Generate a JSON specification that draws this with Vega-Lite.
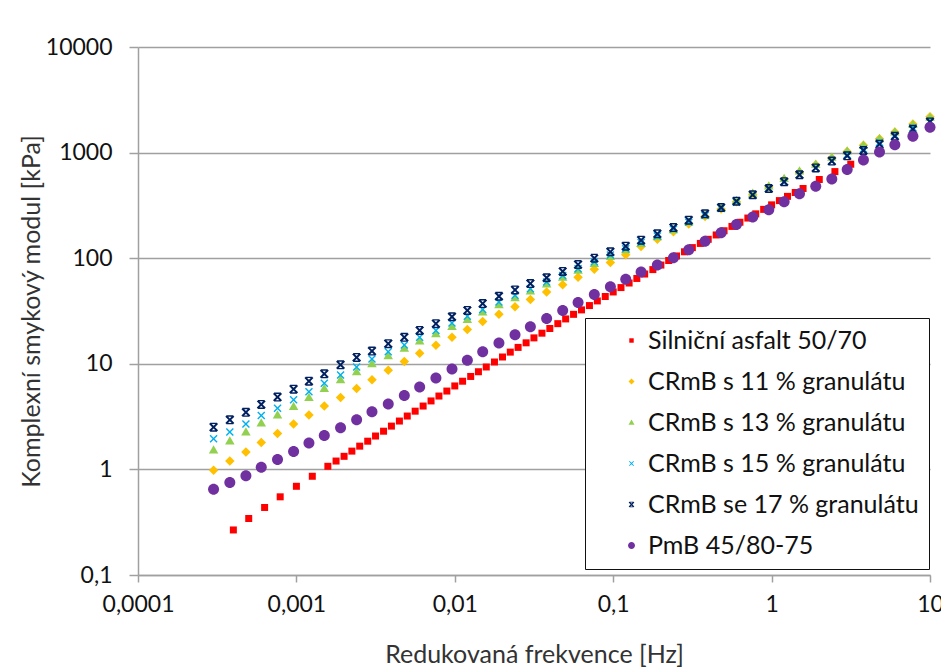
{
"$schema": "https://vega.github.io/schema/vega-lite/v6.json",
"width": 792, "height": 528,
"autosize": {"type": "none"},
"padding": {"left": 138, "top": 47, "right": 11, "bottom": 95},
"background": "white",
"config": {"view": {"stroke": null}, "font": "Lato"},
"data": {"values": [
{"s":"Silniční asfalt 50/70","f":0.0004,"g":0.267},{"s":"Silniční asfalt 50/70","f":0.0005,"g":0.343},{"s":"Silniční asfalt 50/70","f":0.00063,"g":0.436},{"s":"Silniční asfalt 50/70","f":0.00079,"g":0.55},{"s":"Silniční asfalt 50/70","f":0.001,"g":0.692},{"s":"Silniční asfalt 50/70","f":0.00126,"g":0.861},{"s":"Silniční asfalt 50/70","f":0.00158,"g":1.07},{"s":"Silniční asfalt 50/70","f":0.00178,"g":1.2},{"s":"Silniční asfalt 50/70","f":0.002,"g":1.33},{"s":"Silniční asfalt 50/70","f":0.00224,"g":1.49},{"s":"Silniční asfalt 50/70","f":0.00251,"g":1.66},{"s":"Silniční asfalt 50/70","f":0.00282,"g":1.85},{"s":"Silniční asfalt 50/70","f":0.00316,"g":2.07},{"s":"Silniční asfalt 50/70","f":0.00355,"g":2.3},{"s":"Silniční asfalt 50/70","f":0.00398,"g":2.57},{"s":"Silniční asfalt 50/70","f":0.00447,"g":2.87},{"s":"Silniční asfalt 50/70","f":0.00501,"g":3.2},{"s":"Silniční asfalt 50/70","f":0.00562,"g":3.56},{"s":"Silniční asfalt 50/70","f":0.00631,"g":3.98},{"s":"Silniční asfalt 50/70","f":0.00708,"g":4.45},{"s":"Silniční asfalt 50/70","f":0.00794,"g":4.95},{"s":"Silniční asfalt 50/70","f":0.00891,"g":5.52},{"s":"Silniční asfalt 50/70","f":0.01,"g":6.17},{"s":"Silniční asfalt 50/70","f":0.0112,"g":6.84},{"s":"Silniční asfalt 50/70","f":0.0126,"g":7.59},{"s":"Silniční asfalt 50/70","f":0.0141,"g":8.41},{"s":"Silniční asfalt 50/70","f":0.0158,"g":9.33},{"s":"Silniční asfalt 50/70","f":0.0178,"g":10.4},{"s":"Silniční asfalt 50/70","f":0.02,"g":11.6},{"s":"Silniční asfalt 50/70","f":0.0224,"g":12.9},{"s":"Silniční asfalt 50/70","f":0.0251,"g":14.3},{"s":"Silniční asfalt 50/70","f":0.0282,"g":15.8},{"s":"Silniční asfalt 50/70","f":0.0316,"g":17.6},{"s":"Silniční asfalt 50/70","f":0.0355,"g":19.5},{"s":"Silniční asfalt 50/70","f":0.0398,"g":21.6},{"s":"Silniční asfalt 50/70","f":0.0447,"g":24},{"s":"Silniční asfalt 50/70","f":0.0501,"g":26.6},{"s":"Silniční asfalt 50/70","f":0.0562,"g":29.4},{"s":"Silniční asfalt 50/70","f":0.0631,"g":32.4},{"s":"Silniční asfalt 50/70","f":0.0708,"g":35.6},{"s":"Silniční asfalt 50/70","f":0.0794,"g":39.4},{"s":"Silniční asfalt 50/70","f":0.0891,"g":43.4},{"s":"Silniční asfalt 50/70","f":0.1,"g":47.9},{"s":"Silniční asfalt 50/70","f":0.112,"g":52.7},{"s":"Silniční asfalt 50/70","f":0.126,"g":58.2},{"s":"Silniční asfalt 50/70","f":0.141,"g":64.3},{"s":"Silniční asfalt 50/70","f":0.158,"g":70.8},{"s":"Silniční asfalt 50/70","f":0.178,"g":78},{"s":"Silniční asfalt 50/70","f":0.2,"g":86.1},{"s":"Silniční asfalt 50/70","f":0.224,"g":95.1},{"s":"Silniční asfalt 50/70","f":0.251,"g":105},{"s":"Silniční asfalt 50/70","f":0.282,"g":115},{"s":"Silniční asfalt 50/70","f":0.316,"g":126},{"s":"Silniční asfalt 50/70","f":0.355,"g":138},{"s":"Silniční asfalt 50/70","f":0.398,"g":151},{"s":"Silniční asfalt 50/70","f":0.447,"g":166},{"s":"Silniční asfalt 50/70","f":0.501,"g":182},{"s":"Silniční asfalt 50/70","f":0.562,"g":200},{"s":"Silniční asfalt 50/70","f":0.631,"g":219},{"s":"Silniční asfalt 50/70","f":0.708,"g":240},{"s":"Silniční asfalt 50/70","f":0.794,"g":263},{"s":"Silniční asfalt 50/70","f":0.891,"g":290},{"s":"Silniční asfalt 50/70","f":1,"g":320},{"s":"Silniční asfalt 50/70","f":1.12,"g":351},{"s":"Silniční asfalt 50/70","f":1.26,"g":385},{"s":"Silniční asfalt 50/70","f":1.41,"g":419},{"s":"Silniční asfalt 50/70","f":1.58,"g":457},{"s":"Silniční asfalt 50/70","f":2,"g":556},{"s":"Silniční asfalt 50/70","f":2.51,"g":661},{"s":"Silniční asfalt 50/70","f":3.16,"g":776},
{"s":"CRmB s 11 % granulátu","f":0.0003,"g":0.98},{"s":"CRmB s 11 % granulátu","f":0.00038,"g":1.2},{"s":"CRmB s 11 % granulátu","f":0.00048,"g":1.46},{"s":"CRmB s 11 % granulátu","f":0.0006,"g":1.8},{"s":"CRmB s 11 % granulátu","f":0.00076,"g":2.19},{"s":"CRmB s 11 % granulátu","f":0.00096,"g":2.69},{"s":"CRmB s 11 % granulátu","f":0.0012,"g":3.27},{"s":"CRmB s 11 % granulátu","f":0.0015,"g":3.98},{"s":"CRmB s 11 % granulátu","f":0.0019,"g":4.79},{"s":"CRmB s 11 % granulátu","f":0.0024,"g":5.82},{"s":"CRmB s 11 % granulátu","f":0.003,"g":7.08},{"s":"CRmB s 11 % granulátu","f":0.0038,"g":8.71},{"s":"CRmB s 11 % granulátu","f":0.0048,"g":10.5},{"s":"CRmB s 11 % granulátu","f":0.006,"g":12.6},{"s":"CRmB s 11 % granulátu","f":0.0076,"g":15},{"s":"CRmB s 11 % granulátu","f":0.0096,"g":17.8},{"s":"CRmB s 11 % granulátu","f":0.012,"g":21.1},{"s":"CRmB s 11 % granulátu","f":0.015,"g":25.1},{"s":"CRmB s 11 % granulátu","f":0.019,"g":29.5},{"s":"CRmB s 11 % granulátu","f":0.024,"g":34.7},{"s":"CRmB s 11 % granulátu","f":0.03,"g":40.7},{"s":"CRmB s 11 % granulátu","f":0.038,"g":47.9},{"s":"CRmB s 11 % granulátu","f":0.048,"g":56.2},{"s":"CRmB s 11 % granulátu","f":0.06,"g":66.1},{"s":"CRmB s 11 % granulátu","f":0.076,"g":78.5},{"s":"CRmB s 11 % granulátu","f":0.096,"g":91.2},{"s":"CRmB s 11 % granulátu","f":0.12,"g":108},{"s":"CRmB s 11 % granulátu","f":0.15,"g":129},{"s":"CRmB s 11 % granulátu","f":0.19,"g":151},{"s":"CRmB s 11 % granulátu","f":0.24,"g":178},{"s":"CRmB s 11 % granulátu","f":0.3,"g":211},{"s":"CRmB s 11 % granulátu","f":0.38,"g":248},{"s":"CRmB s 11 % granulátu","f":0.48,"g":292},{"s":"CRmB s 11 % granulátu","f":0.6,"g":343},{"s":"CRmB s 11 % granulátu","f":0.76,"g":403},{"s":"CRmB s 11 % granulátu","f":0.96,"g":473},{"s":"CRmB s 11 % granulátu","f":1.2,"g":556},{"s":"CRmB s 11 % granulátu","f":1.5,"g":653},{"s":"CRmB s 11 % granulátu","f":1.9,"g":767},{"s":"CRmB s 11 % granulátu","f":2.4,"g":891},{"s":"CRmB s 11 % granulátu","f":3,"g":1023},{"s":"CRmB s 11 % granulátu","f":3.8,"g":1175},{"s":"CRmB s 11 % granulátu","f":4.8,"g":1349},{"s":"CRmB s 11 % granulátu","f":6,"g":1567},{"s":"CRmB s 11 % granulátu","f":7.8,"g":1862},{"s":"CRmB s 11 % granulátu","f":10,"g":2188},
{"s":"CRmB s 13 % granulátu","f":0.0003,"g":1.53},{"s":"CRmB s 13 % granulátu","f":0.00038,"g":1.86},{"s":"CRmB s 13 % granulátu","f":0.00048,"g":2.26},{"s":"CRmB s 13 % granulátu","f":0.0006,"g":2.75},{"s":"CRmB s 13 % granulátu","f":0.00076,"g":3.27},{"s":"CRmB s 13 % granulátu","f":0.00096,"g":3.94},{"s":"CRmB s 13 % granulátu","f":0.0012,"g":4.79},{"s":"CRmB s 13 % granulátu","f":0.0015,"g":5.82},{"s":"CRmB s 13 % granulátu","f":0.0019,"g":7.08},{"s":"CRmB s 13 % granulátu","f":0.0024,"g":8.41},{"s":"CRmB s 13 % granulátu","f":0.003,"g":10},{"s":"CRmB s 13 % granulátu","f":0.0038,"g":11.9},{"s":"CRmB s 13 % granulátu","f":0.0048,"g":14},{"s":"CRmB s 13 % granulátu","f":0.006,"g":16.4},{"s":"CRmB s 13 % granulátu","f":0.0076,"g":19.3},{"s":"CRmB s 13 % granulátu","f":0.0096,"g":22.6},{"s":"CRmB s 13 % granulátu","f":0.012,"g":26.3},{"s":"CRmB s 13 % granulátu","f":0.015,"g":30.9},{"s":"CRmB s 13 % granulátu","f":0.019,"g":36.3},{"s":"CRmB s 13 % granulátu","f":0.024,"g":42.2},{"s":"CRmB s 13 % granulátu","f":0.03,"g":49},{"s":"CRmB s 13 % granulátu","f":0.038,"g":56.9},{"s":"CRmB s 13 % granulátu","f":0.048,"g":66.1},{"s":"CRmB s 13 % granulátu","f":0.06,"g":76.7},{"s":"CRmB s 13 % granulátu","f":0.076,"g":89.1},{"s":"CRmB s 13 % granulátu","f":0.096,"g":104},{"s":"CRmB s 13 % granulátu","f":0.12,"g":120},{"s":"CRmB s 13 % granulátu","f":0.15,"g":138},{"s":"CRmB s 13 % granulátu","f":0.19,"g":160},{"s":"CRmB s 13 % granulátu","f":0.24,"g":186},{"s":"CRmB s 13 % granulátu","f":0.3,"g":221},{"s":"CRmB s 13 % granulátu","f":0.38,"g":257},{"s":"CRmB s 13 % granulátu","f":0.48,"g":299},{"s":"CRmB s 13 % granulátu","f":0.6,"g":351},{"s":"CRmB s 13 % granulátu","f":0.76,"g":412},{"s":"CRmB s 13 % granulátu","f":0.96,"g":484},{"s":"CRmB s 13 % granulátu","f":1.2,"g":569},{"s":"CRmB s 13 % granulátu","f":1.5,"g":668},{"s":"CRmB s 13 % granulátu","f":1.9,"g":776},{"s":"CRmB s 13 % granulátu","f":2.4,"g":902},{"s":"CRmB s 13 % granulátu","f":3,"g":1035},{"s":"CRmB s 13 % granulátu","f":3.8,"g":1175},{"s":"CRmB s 13 % granulátu","f":4.8,"g":1349},{"s":"CRmB s 13 % granulátu","f":6,"g":1567},{"s":"CRmB s 13 % granulátu","f":7.8,"g":1841},{"s":"CRmB s 13 % granulátu","f":10,"g":2163},
{"s":"CRmB s 15 % granulátu","f":0.0003,"g":1.95},{"s":"CRmB s 15 % granulátu","f":0.00038,"g":2.26},{"s":"CRmB s 15 % granulátu","f":0.00048,"g":2.69},{"s":"CRmB s 15 % granulátu","f":0.0006,"g":3.24},{"s":"CRmB s 15 % granulátu","f":0.00076,"g":3.8},{"s":"CRmB s 15 % granulátu","f":0.00096,"g":4.57},{"s":"CRmB s 15 % granulátu","f":0.0012,"g":5.43},{"s":"CRmB s 15 % granulátu","f":0.0015,"g":6.53},{"s":"CRmB s 15 % granulátu","f":0.0019,"g":7.85},{"s":"CRmB s 15 % granulátu","f":0.0024,"g":9.33},{"s":"CRmB s 15 % granulátu","f":0.003,"g":11.1},{"s":"CRmB s 15 % granulátu","f":0.0038,"g":13},{"s":"CRmB s 15 % granulátu","f":0.0048,"g":15.1},{"s":"CRmB s 15 % granulátu","f":0.006,"g":17.8},{"s":"CRmB s 15 % granulátu","f":0.0076,"g":20.7},{"s":"CRmB s 15 % granulátu","f":0.0096,"g":24.3},{"s":"CRmB s 15 % granulátu","f":0.012,"g":28.2},{"s":"CRmB s 15 % granulátu","f":0.015,"g":32.7},{"s":"CRmB s 15 % granulátu","f":0.019,"g":38.5},{"s":"CRmB s 15 % granulátu","f":0.024,"g":44.7},{"s":"CRmB s 15 % granulátu","f":0.03,"g":51.3},{"s":"CRmB s 15 % granulátu","f":0.038,"g":59.6},{"s":"CRmB s 15 % granulátu","f":0.048,"g":68.4},{"s":"CRmB s 15 % granulátu","f":0.06,"g":79.4},{"s":"CRmB s 15 % granulátu","f":0.076,"g":92.3},{"s":"CRmB s 15 % granulátu","f":0.096,"g":107},{"s":"CRmB s 15 % granulátu","f":0.12,"g":123},{"s":"CRmB s 15 % granulátu","f":0.15,"g":141},{"s":"CRmB s 15 % granulátu","f":0.19,"g":162},{"s":"CRmB s 15 % granulátu","f":0.24,"g":188},{"s":"CRmB s 15 % granulátu","f":0.3,"g":219},{"s":"CRmB s 15 % granulátu","f":0.38,"g":254},{"s":"CRmB s 15 % granulátu","f":0.48,"g":295},{"s":"CRmB s 15 % granulátu","f":0.6,"g":339},{"s":"CRmB s 15 % granulátu","f":0.76,"g":394},{"s":"CRmB s 15 % granulátu","f":0.96,"g":452},{"s":"CRmB s 15 % granulátu","f":1.2,"g":525},{"s":"CRmB s 15 % granulátu","f":1.5,"g":617},{"s":"CRmB s 15 % granulátu","f":1.9,"g":716},{"s":"CRmB s 15 % granulátu","f":2.4,"g":832},{"s":"CRmB s 15 % granulátu","f":3,"g":955},{"s":"CRmB s 15 % granulátu","f":3.8,"g":1084},{"s":"CRmB s 15 % granulátu","f":4.8,"g":1245},{"s":"CRmB s 15 % granulátu","f":6,"g":1462},{"s":"CRmB s 15 % granulátu","f":7.8,"g":1718},{"s":"CRmB s 15 % granulátu","f":10,"g":1995},
{"s":"CRmB se 17 % granulátu","f":0.0003,"g":2.51},{"s":"CRmB se 17 % granulátu","f":0.00038,"g":2.95},{"s":"CRmB se 17 % granulátu","f":0.00048,"g":3.47},{"s":"CRmB se 17 % granulátu","f":0.0006,"g":4.12},{"s":"CRmB se 17 % granulátu","f":0.00076,"g":4.84},{"s":"CRmB se 17 % granulátu","f":0.00096,"g":5.75},{"s":"CRmB se 17 % granulátu","f":0.0012,"g":6.84},{"s":"CRmB se 17 % granulátu","f":0.0015,"g":8.04},{"s":"CRmB se 17 % granulátu","f":0.0019,"g":9.77},{"s":"CRmB se 17 % granulátu","f":0.0024,"g":11.5},{"s":"CRmB se 17 % granulátu","f":0.003,"g":13.2},{"s":"CRmB se 17 % granulátu","f":0.0038,"g":15.5},{"s":"CRmB se 17 % granulátu","f":0.0048,"g":17.8},{"s":"CRmB se 17 % granulátu","f":0.006,"g":20.7},{"s":"CRmB se 17 % granulátu","f":0.0076,"g":24},{"s":"CRmB se 17 % granulátu","f":0.0096,"g":27.9},{"s":"CRmB se 17 % granulátu","f":0.012,"g":32},{"s":"CRmB se 17 % granulátu","f":0.015,"g":37.2},{"s":"CRmB se 17 % granulátu","f":0.019,"g":43.6},{"s":"CRmB se 17 % granulátu","f":0.024,"g":50.1},{"s":"CRmB se 17 % granulátu","f":0.03,"g":57.5},{"s":"CRmB se 17 % granulátu","f":0.038,"g":65.3},{"s":"CRmB se 17 % granulátu","f":0.048,"g":75},{"s":"CRmB se 17 % granulátu","f":0.06,"g":87.1},{"s":"CRmB se 17 % granulátu","f":0.076,"g":100},{"s":"CRmB se 17 % granulátu","f":0.096,"g":115},{"s":"CRmB se 17 % granulátu","f":0.12,"g":130},{"s":"CRmB se 17 % granulátu","f":0.15,"g":148},{"s":"CRmB se 17 % granulátu","f":0.19,"g":170},{"s":"CRmB se 17 % granulátu","f":0.24,"g":195},{"s":"CRmB se 17 % granulátu","f":0.3,"g":229},{"s":"CRmB se 17 % granulátu","f":0.38,"g":263},{"s":"CRmB se 17 % granulátu","f":0.48,"g":302},{"s":"CRmB se 17 % granulátu","f":0.6,"g":347},{"s":"CRmB se 17 % granulátu","f":0.76,"g":398},{"s":"CRmB se 17 % granulátu","f":0.96,"g":457},{"s":"CRmB se 17 % granulátu","f":1.2,"g":531},{"s":"CRmB se 17 % granulátu","f":1.5,"g":617},{"s":"CRmB se 17 % granulátu","f":1.9,"g":716},{"s":"CRmB se 17 % granulátu","f":2.4,"g":832},{"s":"CRmB se 17 % granulátu","f":3,"g":933},{"s":"CRmB se 17 % granulátu","f":3.8,"g":1047},{"s":"CRmB se 17 % granulátu","f":4.8,"g":1202},{"s":"CRmB se 17 % granulátu","f":6,"g":1429},{"s":"CRmB se 17 % granulátu","f":7.8,"g":1660},{"s":"CRmB se 17 % granulátu","f":10,"g":1950},
{"s":"PmB 45/80-75","f":0.0003,"g":0.65},{"s":"PmB 45/80-75","f":0.00038,"g":0.75},{"s":"PmB 45/80-75","f":0.00048,"g":0.87},{"s":"PmB 45/80-75","f":0.0006,"g":1.05},{"s":"PmB 45/80-75","f":0.00076,"g":1.24},{"s":"PmB 45/80-75","f":0.00096,"g":1.48},{"s":"PmB 45/80-75","f":0.0012,"g":1.78},{"s":"PmB 45/80-75","f":0.0015,"g":2.09},{"s":"PmB 45/80-75","f":0.0019,"g":2.48},{"s":"PmB 45/80-75","f":0.0024,"g":2.95},{"s":"PmB 45/80-75","f":0.003,"g":3.51},{"s":"PmB 45/80-75","f":0.0038,"g":4.17},{"s":"PmB 45/80-75","f":0.0048,"g":5.01},{"s":"PmB 45/80-75","f":0.006,"g":6.03},{"s":"PmB 45/80-75","f":0.0076,"g":7.33},{"s":"PmB 45/80-75","f":0.0096,"g":8.91},{"s":"PmB 45/80-75","f":0.012,"g":10.8},{"s":"PmB 45/80-75","f":0.015,"g":13},{"s":"PmB 45/80-75","f":0.019,"g":15.7},{"s":"PmB 45/80-75","f":0.024,"g":18.8},{"s":"PmB 45/80-75","f":0.03,"g":22.4},{"s":"PmB 45/80-75","f":0.038,"g":26.9},{"s":"PmB 45/80-75","f":0.048,"g":32},{"s":"PmB 45/80-75","f":0.06,"g":38},{"s":"PmB 45/80-75","f":0.076,"g":45.2},{"s":"PmB 45/80-75","f":0.096,"g":53.7},{"s":"PmB 45/80-75","f":0.12,"g":63.1},{"s":"PmB 45/80-75","f":0.15,"g":74.1},{"s":"PmB 45/80-75","f":0.19,"g":86.1},{"s":"PmB 45/80-75","f":0.24,"g":101},{"s":"PmB 45/80-75","f":0.3,"g":120},{"s":"PmB 45/80-75","f":0.38,"g":145},{"s":"PmB 45/80-75","f":0.48,"g":174},{"s":"PmB 45/80-75","f":0.6,"g":209},{"s":"PmB 45/80-75","f":0.76,"g":245},{"s":"PmB 45/80-75","f":0.96,"g":288},{"s":"PmB 45/80-75","f":1.2,"g":343},{"s":"PmB 45/80-75","f":1.5,"g":407},{"s":"PmB 45/80-75","f":1.9,"g":479},{"s":"PmB 45/80-75","f":2.4,"g":562},{"s":"PmB 45/80-75","f":3,"g":692},{"s":"PmB 45/80-75","f":3.8,"g":851},{"s":"PmB 45/80-75","f":4.8,"g":1012},{"s":"PmB 45/80-75","f":6,"g":1189},{"s":"PmB 45/80-75","f":7.8,"g":1429},{"s":"PmB 45/80-75","f":10,"g":1738}
]},
"mark": {"type": "point", "filled": true, "opacity": 1, "strokeWidth": 0, "size": 100},
"encoding": {
  "x": {"field": "f", "type": "quantitative",
    "scale": {"type": "log", "domain": [0.0001, 10], "nice": false},
    "axis": {"title": "Redukovaná frekvence [Hz]", "values": [0.0001, 0.001, 0.01, 0.1, 1, 10],
      "labelExpr": "replace(toString(datum.value), '.', ',')", "grid": false,
      "domainColor": "#A0A0A0", "domainWidth": 1.5, "tickColor": "#A0A0A0", "tickWidth": 1.5, "tickSize": 7,
      "labelFont": "Lato", "labelFontSize": 23, "labelColor": "#111", "labelPadding": 11, "labelFlush": false, "labelOverlap": false,
      "titleFont": "Lato", "titleFontSize": 25, "titleFontWeight": "normal", "titleColor": "#333", "titlePadding": 26}},
  "y": {"field": "g", "type": "quantitative",
    "scale": {"type": "log", "domain": [0.1, 10000], "nice": false},
    "axis": {"title": "Komplexní smykový modul [kPa]", "values": [0.1, 1, 10, 100, 1000, 10000],
      "labelExpr": "replace(toString(datum.value), '.', ',')", "grid": true, "gridColor": "#A0A0A0", "gridWidth": 1.5,
      "domainColor": "#A0A0A0", "domainWidth": 1.5, "tickColor": "#A0A0A0", "tickWidth": 1.5, "tickSize": 9,
      "labelFont": "Lato", "labelFontSize": 23, "labelColor": "#111", "labelPadding": 17, "labelFlush": false, "labelOverlap": false,
      "titleFont": "Lato", "titleFontSize": 25, "titleFontWeight": "normal", "titleColor": "#333", "titlePadding": 1}},
  "color": {"field": "s", "type": "nominal",
    "scale": {"domain": ["Silniční asfalt 50/70", "CRmB s 11 % granulátu", "CRmB s 13 % granulátu", "CRmB s 15 % granulátu", "CRmB se 17 % granulátu", "PmB 45/80-75"],
      "range": ["#FF0000", "#FFC000", "#92D050", "#00B0F0", "#002060", "#7030A0"]},
    "legend": {"title": null, "orient": "none", "legendX": 447, "legendY": 271, "padding": 10,
      "strokeColor": "#111", "fillColor": "white", "symbolOffset": 24, "labelOffset": 4, "rowPadding": 15,
      "labelFont": "Lato", "labelFontSize": 25, "labelColor": "#111", "symbolSize": 40, "symbolStrokeWidth": 0, "labelLimit": 600,
      "labelExpr": "datum.label + '          '",
      "encode": {"symbols": {"update": {"size": {"value": 40}}}, "legend": {"update": {"strokeWidth": {"value": 2}}}}}},
  "shape": {"field": "s", "type": "nominal",
    "scale": {"domain": ["Silniční asfalt 50/70", "CRmB s 11 % granulátu", "CRmB s 13 % granulátu", "CRmB s 15 % granulátu", "CRmB se 17 % granulátu", "PmB 45/80-75"],
      "range": ["M-0.7,-0.7L0.7,-0.7L0.7,0.7L-0.7,0.7Z", "M0,-0.95L0.95,0L0,0.95L-0.95,0Z", "M0,-0.95L0.95,0.7L-0.95,0.7Z", "M-0.8,-0.6L-0.6,-0.8L0,-0.2L0.6,-0.8L0.8,-0.6L0.2,0L0.8,0.6L0.6,0.8L0,0.2L-0.6,0.8L-0.8,0.6L-0.2,0Z", "M-0.9,-0.62L-0.62,-0.9L0,-0.28L0.62,-0.9L0.9,-0.62L0.28,0L0.9,0.62L0.62,0.9L0,0.28L-0.62,0.9L-0.9,0.62L-0.28,0ZM-0.7,-0.9L0.7,-0.9L0.7,-0.62L-0.7,-0.62ZM-0.7,0.62L0.7,0.62L0.7,0.9L-0.7,0.9Z", "M1.1,0A1.1,1.1,0,1,1,-1.1,0A1.1,1.1,0,1,1,1.1,0Z"]},
    "legend": {"title": null, "orient": "none", "legendX": 447, "legendY": 271, "padding": 10,
      "strokeColor": "#111", "fillColor": "white", "symbolOffset": 24, "labelOffset": 4, "rowPadding": 15,
      "labelFont": "Lato", "labelFontSize": 25, "labelColor": "#111", "symbolSize": 40, "symbolStrokeWidth": 0, "labelLimit": 600,
      "labelExpr": "datum.label + '          '",
      "encode": {"symbols": {"update": {"size": {"value": 40}}}, "legend": {"update": {"strokeWidth": {"value": 2}}}}}}
}
}
